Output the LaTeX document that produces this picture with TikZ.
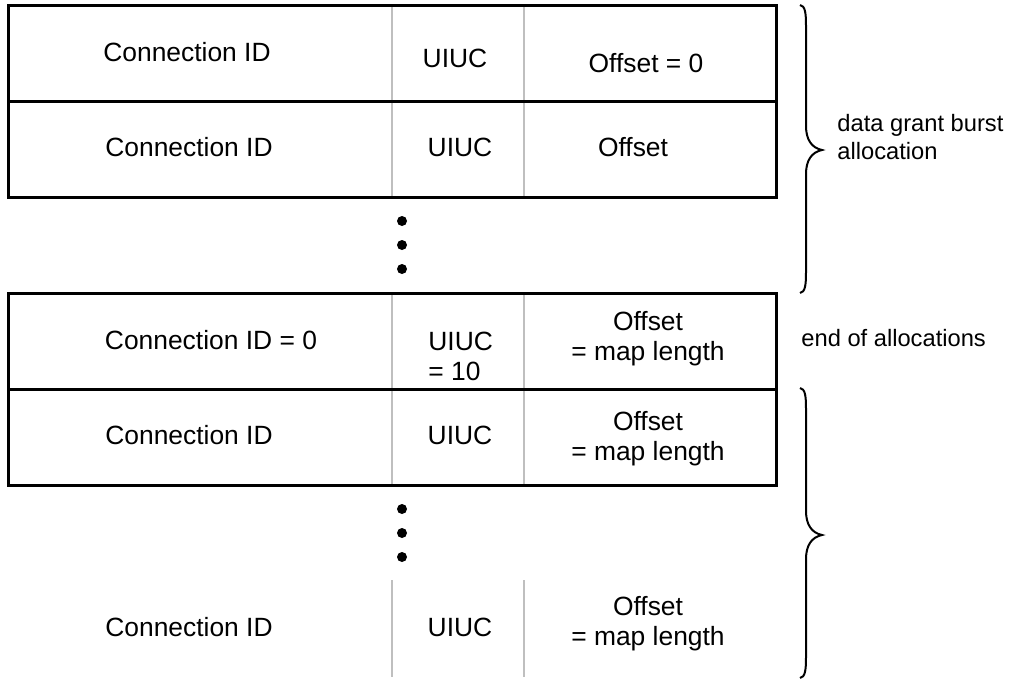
\documentclass[tikz,border=0pt]{standalone}
\usepackage{fontspec}
\setmainfont{Liberation Sans}
\begin{document}
\begin{tikzpicture}[x=0.5pt,y=-0.5pt,
  txt/.style={font=\fontsize{13.2}{15}\selectfont, inner sep=0pt},
  lbl/.style={font=\fontsize{11.85}{14}\selectfont, inner sep=0pt, align=left, anchor=west},
  frame/.style={line width=1.5pt},
  col/.style={draw=black!25, line width=1pt},
  brc/.style={line width=1pt},
  dotmark/.style={fill=black}]
\useasboundingbox (0,0) rectangle (1011,680);

% grey column lines
\draw[col] (392,5) -- (392,197);
\draw[col] (524,5) -- (524,197);
\draw[col] (392,293) -- (392,485);
\draw[col] (524,293) -- (524,485);
\draw[col] (392,580) -- (392,677);
\draw[col] (524,580) -- (524,677);

% frames
\draw[frame] (8,5) rectangle (776,197);
\draw[frame] (8,101) -- (776,101);
\draw[frame] (8,293) rectangle (776,485);
\draw[frame] (8,389) -- (776,389);

% dots
\fill[dotmark] (402,221) circle[radius=5];
\fill[dotmark] (402,245) circle[radius=5];
\fill[dotmark] (402,269) circle[radius=5];
\fill[dotmark] (402,509) circle[radius=5];
\fill[dotmark] (402,533) circle[radius=5];
\fill[dotmark] (402,557) circle[radius=5];

% texts
\node[txt] (c1) at (187,52) {Connection ID};
\node[txt] (u1) at (455,58) {UIUC};
\node[txt] (o1) at (646,63) {Offset = 0};

\node[txt] (c2) at (189,147) {Connection ID};
\node[txt] (u2) at (460,147) {UIUC};
\node[txt] (o2) at (633,147) {Offset};

\node[txt] (c3) at (211,340) {Connection ID = 0};
\node[txt, align=left, anchor=west] (u3) at (428,356) {UIUC\\= 10};
\node[txt, align=center] (o3) at (648,339) {Offset\\= map length};

\node[txt] (c4) at (189,435) {Connection ID};
\node[txt] (u4) at (460,435) {UIUC};
\node[txt, align=center] (o4) at (648,439) {Offset\\= map length};

\node[txt] (c5) at (189,627) {Connection ID};
\node[txt] (u5) at (460,627) {UIUC};
\node[txt, align=center] (o5) at (648,624) {Offset\\= map length};

\node[lbl] (l1) at (837,137) {data grant burst\\allocation};
\node[lbl] (l2) at (801,338) {end of allocations};

% braces
\draw[brc] (800,5) .. controls (805,6) and (806,12) .. (806,26) -- (806,126)
  .. controls (806,140) and (812,148) .. (822,150)
  .. controls (812,152) and (806,160) .. (806,174) -- (806,272)
  .. controls (806,286) and (805,292) .. (800,293);
\draw[brc] (800,388) .. controls (805,389) and (806,395) .. (806,409) -- (806,511)
  .. controls (806,525) and (812,533) .. (822,535)
  .. controls (812,537) and (806,545) .. (806,559) -- (806,657)
  .. controls (806,671) and (805,677) .. (800,678);
\end{tikzpicture}
\end{document}
